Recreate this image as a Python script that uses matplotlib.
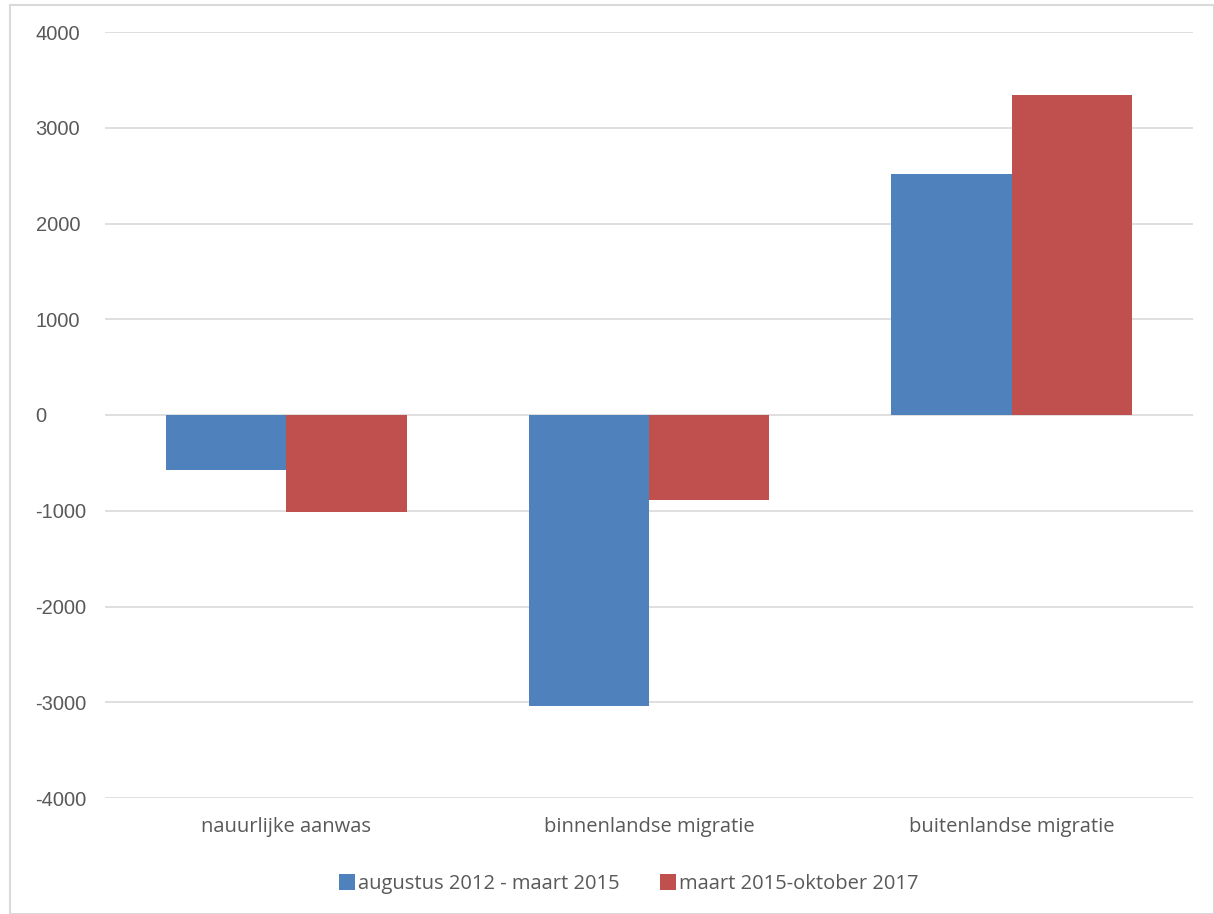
import numpy as np
import matplotlib
matplotlib.use("Agg")
import matplotlib.pyplot as plt
from matplotlib.patches import Rectangle

categories = ["nauurlijke aanwas", "binnenlandse migratie", "buitenlandse migratie"]
series_names = ["augustus 2012 - maart 2015", "maart 2015-oktober 2017"]
period_1 = [-570, -3040, 2520]
period_2 = [-1010, -890, 3340]
colors = ["#4F81BD", "#C0504D"]

plt.rcParams["font.family"] = ["Open Sans", "DejaVu Sans"]
plt.rcParams["axes.unicode_minus"] = False

fig = plt.figure(figsize=(12.14, 9.14), dpi=100)
fig.patches.append(Rectangle((10 / 1214, 0), 1 - 10 / 1214, 1 - 5 / 914,
                             transform=fig.transFigure, fill=False,
                             edgecolor="#D9D9D9", linewidth=1.5))

ax = fig.add_axes([105 / 1214, 1 - 798 / 914, (1193 - 105) / 1214, (798 - 32) / 914])

x = np.arange(len(categories))
w = 0.332
ax.bar(x - w / 2, period_1, w, color=colors[0], label=series_names[0], zorder=3)
ax.bar(x + w / 2, period_2, w, color=colors[1], label=series_names[1], zorder=3)

ax.set_xlim(-0.5, 2.5)
ax.set_ylim(-4000, 4000)
ax.set_yticks(range(-4000, 4001, 1000))
ax.yaxis.grid(True, color="#D9D9D9", linewidth=1.2, zorder=0)
ax.set_axisbelow(True)

ax.set_xticks(x)
ax.set_xticklabels(categories, fontsize=14.5, color="#595959")
ax.tick_params(axis="x", length=0, pad=14)
ax.tick_params(axis="y", length=0, pad=50, labelsize=14.5, labelcolor="#595959")
for lbl in ax.get_yticklabels():
    lbl.set_horizontalalignment("left")
    lbl.set_family(["Liberation Sans", "DejaVu Sans"])

for s in ax.spines.values():
    s.set_visible(False)

fig.legend(loc="center", bbox_to_anchor=(629 / 1214, 1 - 884 / 914), ncol=2,
           frameon=False, fontsize=14.5, handlelength=0.8, handleheight=0.8,
           handletextpad=0.15, columnspacing=2.0, labelcolor="#595959")

fig.savefig("out.png", dpi=100)
